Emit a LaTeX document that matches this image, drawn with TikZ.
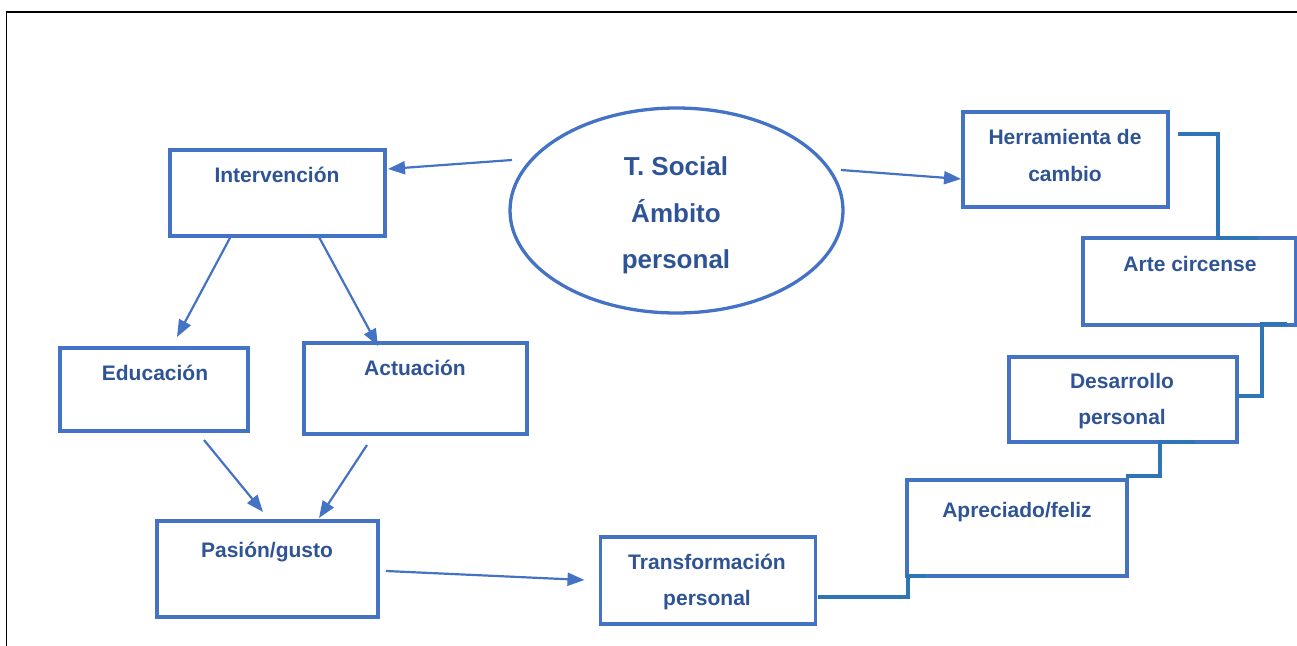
\documentclass[tikz,border=0pt]{standalone}
\usepackage{fontspec}
\setmainfont{Liberation Sans}
\usetikzlibrary{arrows.meta,shapes.geometric}
\definecolor{boxblue}{HTML}{4472C4}
\definecolor{txtblue}{HTML}{2F5496}
\definecolor{linkblue}{HTML}{2E75B6}
\begin{document}
\begin{tikzpicture}[x=1pt,y=-1pt,
  box/.style={draw=boxblue,line width=3.3pt,rectangle,inner sep=0pt,outer sep=0pt},
  lbl/.style={text=txtblue,inner sep=0pt,align=center,font=\fontsize{21}{36.5}\selectfont\bfseries},
  arr/.style={draw=boxblue,line width=2.2pt,-{Triangle[length=17pt,width=13pt]}},
  link/.style={draw=linkblue,line width=3.2pt}]
\useasboundingbox (0,0) rectangle (1297,645);
% frame
\draw[black,line width=1.6pt] (6.5,650) -- (6.5,12) -- (1300,12);
% boxes
\node[box,minimum width=215pt,minimum height=86pt] (interv) at (277.5,193) {};
\node[box,minimum width=188pt,minimum height=83pt] (educ) at (154,389.5) {};
\node[box,minimum width=223pt,minimum height=91pt] (actu) at (415.5,388.5) {};
\node[box,minimum width=221pt,minimum height=96pt] (pasion) at (267.5,569) {};
\node[box,minimum width=215pt,minimum height=87pt] (transf) at (708,580.5) {};
\node[box,minimum width=220pt,minimum height=96pt] (apre) at (1017,528) {};
\node[box,minimum width=228pt,minimum height=85pt] (desa) at (1123,399.5) {};
\node[box,minimum width=213pt,minimum height=87pt] (arte) at (1189.5,281.5) {};
\node[box,minimum width=205pt,minimum height=95pt] (herr) at (1065.5,159.5) {};
\node[draw=boxblue,line width=3.3pt,ellipse,inner sep=0pt,outer sep=0pt,minimum width=333pt,minimum height=205pt] (ell) at (676.5,210.5) {};
% texts
\node[lbl] (t-interv) at (277,175) {Intervención};
\node[lbl] (t-educ) at (155,373) {Educación};
\node[lbl] (t-actu) at (415,368) {Actuación};
\node[lbl] (t-pasion) at (267,552) {Pasión/gusto};
\node[lbl] (t-transf) at (707,582) {Transformación\\personal};
\node[lbl] (t-apre) at (1017,512) {Apreciado/feliz};
\node[lbl] (t-desa) at (1122,401) {Desarrollo\\personal};
\node[lbl] (t-arte) at (1190,264) {Arte circense};
\node[lbl] (t-herr) at (1065,155.5) {Herramienta de\\cambio};
\node[lbl,font=\fontsize{26}{46.5}\selectfont\bfseries] (t-ell) at (676,215.5) {T. Social\\Ámbito\\personal};
% arrows
\draw[arr] ([shift={(2,-50.5)}]ell.west) -- ([shift={(3,-24)}]interv.east);
\draw[arr] ([shift={(-2,-40.5)}]ell.east) -- ([shift={(-2,19.5)}]herr.west);
\draw[arr] ([shift={(-46.5,0)}]interv.south) -- ([shift={(23,-11)}]educ.north);
\draw[arr] ([shift={(41.5,1)}]interv.south) -- ([shift={(-37.5,3)}]actu.north);
\draw[arr] ([shift={(50,9)}]educ.south) -- ([shift={(-4.5,-9)}]pasion.north);
\draw[arr] ([shift={(-48.5,11)}]actu.south) -- ([shift={(51.5,-3)}]pasion.north);
\draw[arr] ([shift={(8,2)}]pasion.east) -- ([shift={(-16,-0.5)}]transf.west);
% elbow connectors
\draw[link] ([shift={(10,-25.5)}]herr.east) -| ([shift={(28.5,0)}]arte.north) -- ([shift={(68.5,0)}]arte.north);
\draw[link] ([shift={(97.5,-1)}]arte.south) -- ([shift={(72.5,-1)}]arte.south) |- ([shift={(2,-3.5)}]desa.east);
\draw[link] ([shift={(72,0)}]desa.south) -- ([shift={(37,0)}]desa.south) |- ([shift={(-1,-4)}]apre.north east);
\draw[link] ([shift={(2.5,16.5)}]transf.east) -| ([shift={(1,0)}]apre.south west) -- ([shift={(18,0)}]apre.south west);
\end{tikzpicture}
\end{document}
